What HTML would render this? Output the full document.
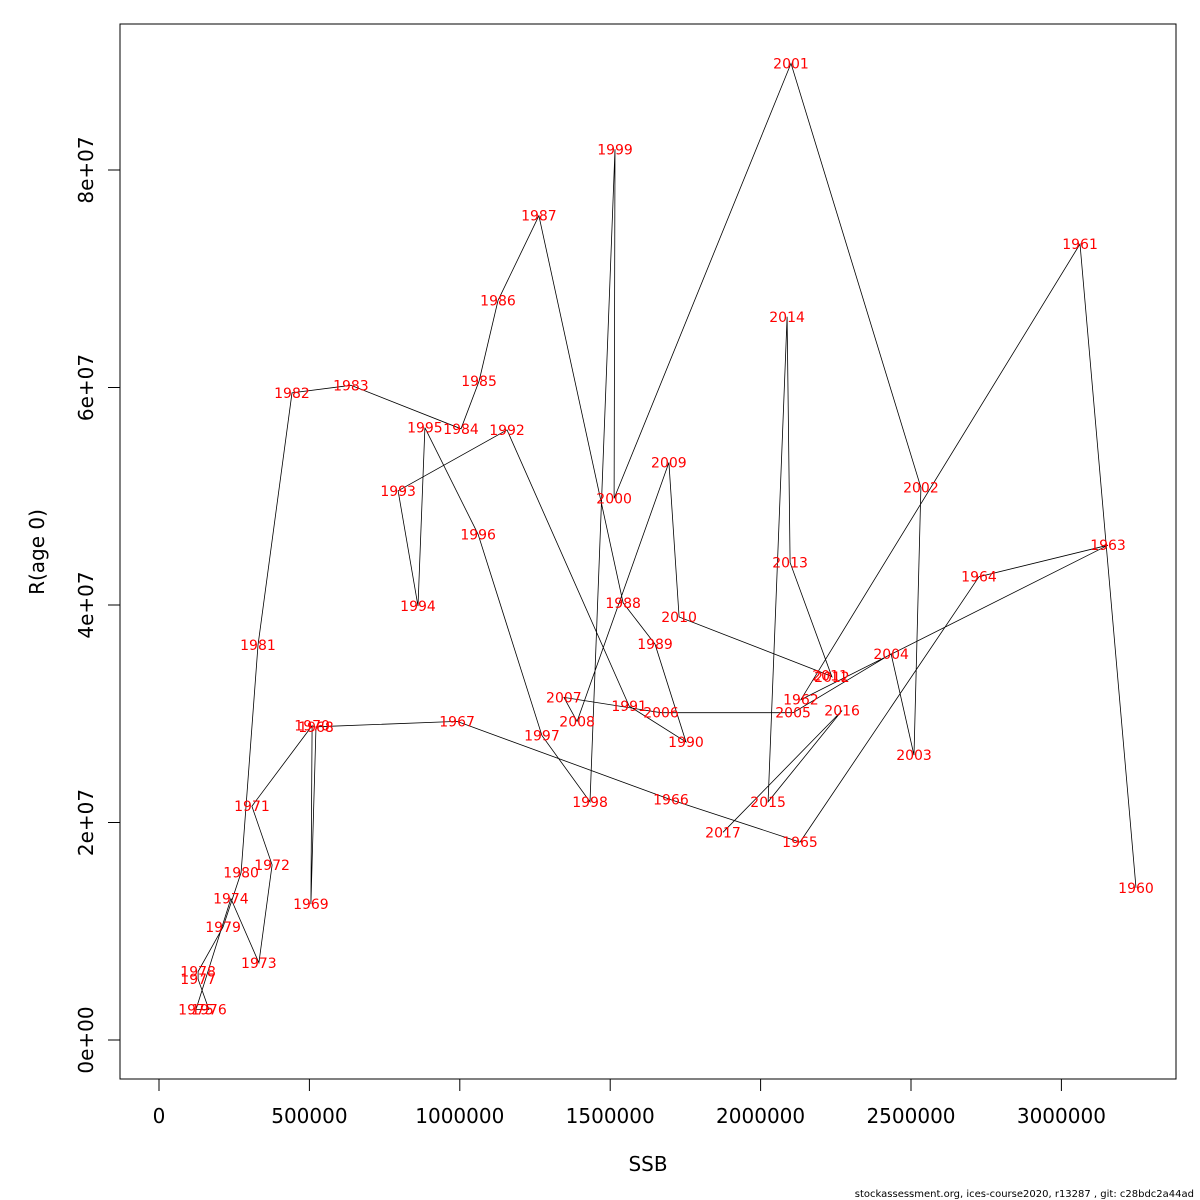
<!DOCTYPE html>
<html><head><meta charset="utf-8"><style>
html,body{margin:0;padding:0;background:#fff;}
svg{display:block;font-family:"DejaVu Sans","Liberation Sans",sans-serif;}
</style></head><body>
<svg id="chart" width="1200" height="1200" viewBox="0 0 1200 1200" xmlns="http://www.w3.org/2000/svg">
<rect x="0" y="0" width="1200" height="1200" fill="#fff"/>
<rect x="120" y="24" width="1056" height="1055" fill="none" stroke="#000" stroke-width="1"/>
<g id="xaxis"></g>
<g id="yaxis"></g>
<g id="marks"></g>
<text x="648" y="1171" font-size="20" text-anchor="middle">SSB</text>
<text transform="translate(44,552) rotate(-90)" font-size="20" text-anchor="middle">R(age 0)</text>
<text x="1194" y="1197" font-size="10" text-anchor="end">stockassessment.org, ices-course2020, r13287 , git: c28bdc2a44ad</text>
</svg>
<script>
const years = [1960,1961,1962,1963,1964,1965,1966,1967,1968,1969,1970,1971,1972,1973,1974,1975,1976,1977,1978,1979,1980,1981,1982,1983,1984,1985,1986,1987,1988,1989,1990,1991,1992,1993,1994,1995,1996,1997,1998,1999,2000,2001,2002,2003,2004,2005,2006,2007,2008,2009,2010,2011,2012,2013,2014,2015,2016,2017];
const ssb = [3248000,3062000,2134000,3155000,2726000,2131000,1702000,991000,522000,505000,509000,309000,376000,332000,239000,123000,166000,130000,130000,213000,273000,329000,442000,638000,1004000,1064000,1127000,1263000,1543000,1649000,1752000,1563000,1157000,795000,861000,884000,1061000,1273000,1433000,1516000,1513000,2101000,2533000,2510000,2434000,2108000,1669000,1346000,1390000,1695000,1729000,2231000,2237000,2098000,2088000,2025000,2271000,1875000];
const rec = [14.0e6,73.2e6,31.3e6,45.5e6,42.6e6,18.2e6,22.1e6,29.3e6,28.8e6,12.5e6,28.9e6,21.5e6,16.1e6,7.1e6,13.0e6,2.8e6,2.8e6,5.6e6,6.3e6,10.4e6,15.4e6,36.3e6,59.5e6,60.2e6,56.2e6,60.6e6,68.0e6,75.8e6,40.2e6,36.4e6,27.4e6,30.7e6,56.1e6,50.5e6,39.9e6,56.3e6,46.5e6,28.0e6,21.9e6,81.9e6,49.8e6,89.8e6,50.8e6,26.2e6,35.5e6,30.1e6,30.1e6,31.5e6,29.3e6,53.1e6,38.9e6,33.5e6,33.4e6,43.9e6,66.5e6,21.9e6,30.3e6,19.1e6];
const xTicks = [0,500000,1000000,1500000,2000000,2500000,3000000];
const xTickLabels = ["0","500000","1000000","1500000","2000000","2500000","3000000"];
const yTicks = [0,2e7,4e7,6e7,8e7];
const yTickLabels = ["0e+00","2e+07","4e+07","6e+07","8e+07"];

const NS="http://www.w3.org/2000/svg";
function X(v){return 159+v*0.0003008;}
function Y(v){return 1040-v*1.0875e-5;}
function mk(tag,attrs,parent){const e=document.createElementNS(NS,tag);for(const k in attrs)e.setAttribute(k,attrs[k]);parent.appendChild(e);return e;}

const xa=document.getElementById('xaxis');
mk('line',{x1:X(xTicks[0]),x2:X(xTicks[xTicks.length-1]),y1:1079,y2:1079,stroke:'#000'},xa);
xTicks.forEach((t,i)=>{
  const l=mk('line',{x1:X(t),x2:X(t),y1:1079,y2:1091,stroke:'#000'},xa);
  
  
  const tx=mk('text',{x:X(t),y:1123,'font-size':20,'text-anchor':'middle'},xa);
  tx.textContent=xTickLabels[i];
  
  
});
const ya=document.getElementById('yaxis');
mk('line',{x1:120,x2:120,y1:Y(yTicks[0]),y2:Y(yTicks[yTicks.length-1]),stroke:'#000'},ya);
yTicks.forEach((t,i)=>{
  const l=mk('line',{x1:108,x2:120,y1:Y(t),y2:Y(t),stroke:'#000'},ya);
  
  
  const tx=mk('text',{transform:`translate(93,${Y(t)}) rotate(-90)`,'font-size':20,'text-anchor':'middle'},ya);
  tx.textContent=yTickLabels[i];
  
  
});

const g=document.getElementById('marks');
const pts=years.map((y,i)=>X(ssb[i]).toFixed(1)+','+Y(rec[i]).toFixed(1)).join(' ');
const pl=mk('polyline',{points:pts,fill:'none',stroke:'#000','stroke-width':0.8},g);


years.forEach((yr,i)=>{
  const t=mk('text',{x:X(ssb[i]),y:Y(rec[i])+5,'font-size':14,'text-anchor':'middle',fill:'#ff0000'},g);
  t.textContent=yr;
  
  
});
</script>
</body></html>
